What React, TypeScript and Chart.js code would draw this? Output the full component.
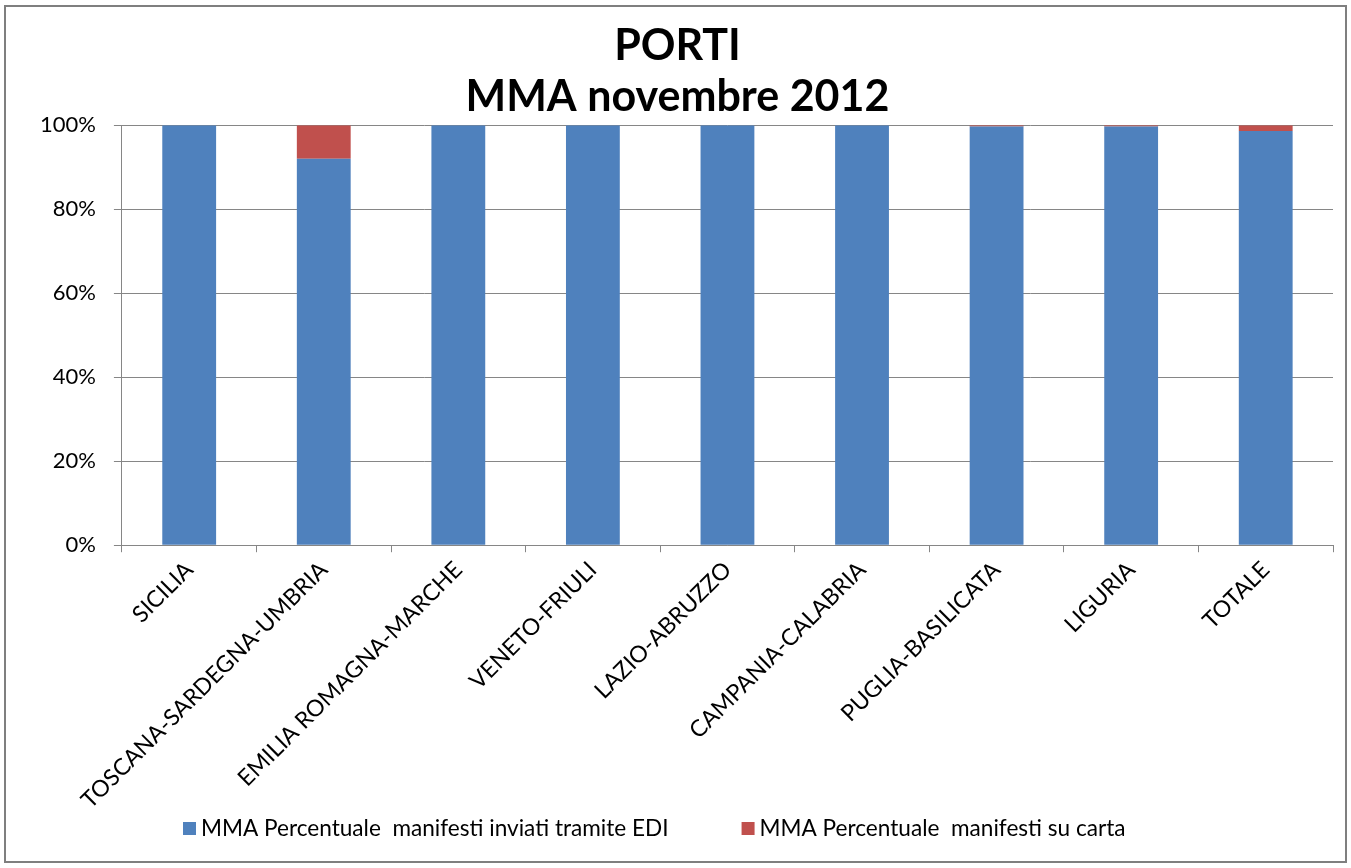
import React, { useEffect, useRef } from "react";
import { Chart, registerables } from "chart.js";

Chart.register(...registerables);

const categories = [
  "SICILIA",
  "TOSCANA-SARDEGNA-UMBRIA",
  "EMILIA ROMAGNA-MARCHE",
  "VENETO-FRIULI",
  "LAZIO-ABRUZZO",
  "CAMPANIA-CALABRIA",
  "PUGLIA-BASILICATA",
  "LIGURIA",
  "TOTALE",
];
const ediValues = [100, 92, 100, 100, 100, 100, 99.7, 99.7, 98.6];
const cartaValues = [0, 8, 0, 0, 0, 0, 0.3, 0.3, 1.4];
const seriesNames = [
  "MMA Percentuale  manifesti inviati tramite EDI",
  "MMA Percentuale  manifesti su carta",
];
const titleLines = ["PORTI", "MMA novembre 2012"];

const FONT = "Lato, 'Open Sans', sans-serif";
const GRID = "#868686";

const framePlugin = {
  id: "frame",
  afterDraw(chart: any) {
    const ctx = chart.ctx;
    ctx.save();
    ctx.strokeStyle = "#7f7f7f";
    ctx.lineWidth = 2;
    ctx.strokeRect(5, 6, 1341, 856);
    ctx.restore();
  },
};

// legend drawn from the datasets (labels + colours), Excel-like spacing
const legendPlugin = {
  id: "excelLegend",
  afterDraw(chart: any) {
    const ctx = chart.ctx;
    ctx.save();
    ctx.font = `22.6px ${FONT}`;
    ctx.textBaseline = "middle";
    ctx.textAlign = "left";
    const y = 829;
    let x = 183;
    chart.data.datasets.forEach((ds: any) => {
      ctx.fillStyle = ds.backgroundColor;
      ctx.fillRect(x, y - 7, 13, 13);
      ctx.fillStyle = "#000";
      ctx.fillText(ds.label, x + 18, y);
      x += 18 + ctx.measureText(ds.label).width + 73;
    });
    ctx.restore();
  },
};

export default function App() {
  const ref = useRef<HTMLCanvasElement>(null);
  useEffect(() => {
    document.body.style.margin = "0";
    const chart = new Chart(ref.current!, {
      type: "bar",
      data: {
        labels: categories,
        datasets: [
          {
            label: seriesNames[0],
            data: ediValues,
            backgroundColor: "#4F81BD",
            barPercentage: 0.4,
            categoryPercentage: 1,
          },
          {
            label: seriesNames[1],
            data: cartaValues,
            backgroundColor: "#C0504D",
            barPercentage: 0.4,
            categoryPercentage: 1,
          },
        ],
      },
      options: {
        animation: false,
        responsive: false,
        layout: { padding: { left: 22, right: 18, top: 12, bottom: 50 } },
        plugins: {
          title: {
            display: true,
            text: titleLines,
            font: { family: FONT, size: 43, weight: "bold" },
            color: "#000",
            padding: { top: 8, bottom: 2 },
            lineHeight: 1.27,
          },
          legend: { display: false },
          tooltip: { enabled: false },
        },
        scales: {
          x: {
            stacked: true,
            grid: {
              offset: true,
              drawOnChartArea: false,
              drawTicks: true,
              tickLength: 7,
              color: GRID,
            },
            border: { display: true, color: GRID },
            ticks: {
              minRotation: 45,
              maxRotation: 45,
              autoSkip: false,
              color: "#000",
              font: { family: FONT, size: 23 },
              padding: 4,
            },
          },
          y: {
            stacked: true,
            min: 0,
            max: 100,
            grid: { color: GRID, tickLength: 8 },
            border: { display: true, color: GRID },
            ticks: {
              stepSize: 20,
              color: "#000",
              font: { family: FONT, size: 22 },
              padding: 18,
              callback: (v: any) => v + "%",
            },
          },
        },
      },
      plugins: [framePlugin, legendPlugin],
    });
    return () => chart.destroy();
  }, []);
  return (
    <div style={{ width: 1351, height: 868, background: "#fff" }}>
      <canvas ref={ref} width={1351} height={868} />
    </div>
  );
}
